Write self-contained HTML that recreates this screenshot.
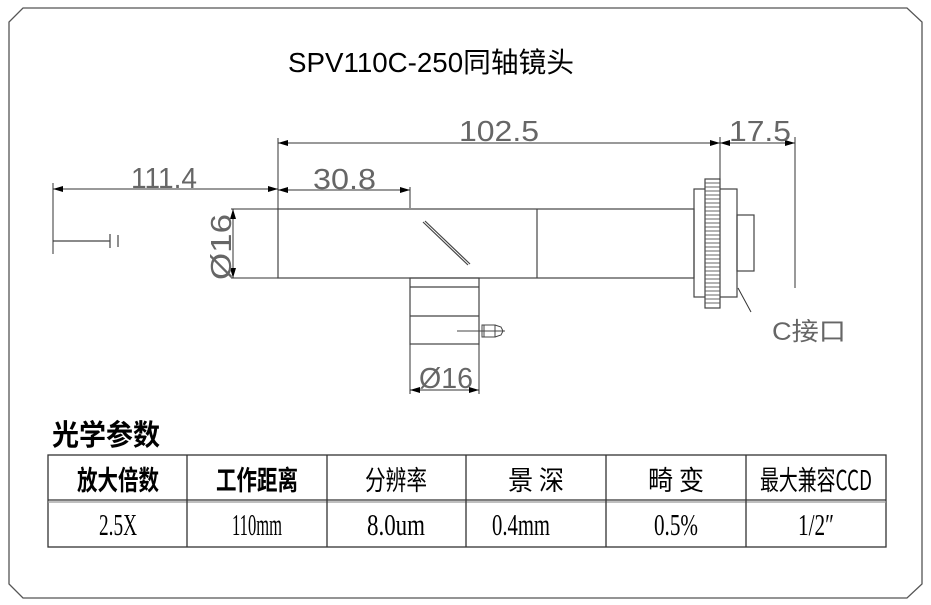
<!DOCTYPE html>
<html><head><meta charset="utf-8"><style>
html,body{margin:0;padding:0;background:#fff;}
svg{display:block;}
.d{font-family:"Liberation Sans","Noto Sans CJK SC",sans-serif;fill:#666;font-weight:normal;}
</style></head><body>
<svg width="931" height="605" viewBox="0 0 931 605" xmlns="http://www.w3.org/2000/svg">
<defs>
<marker id="a" viewBox="0 0 10 6" refX="10" refY="3" markerWidth="10" markerHeight="6" orient="auto-start-reverse" markerUnits="userSpaceOnUse"><path d="M0,0 L10,3 L0,6 z" fill="#000"/></marker>
</defs>
<path d="M23,8 L907,8 L922,22 L922,584 L907,598 L23,598 L9,584 L9,22 Z" fill="none" stroke="#555" stroke-width="1.3"/>
<text x="431" y="72" text-anchor="middle" font-family="Liberation Sans,'Noto Sans CJK SC',sans-serif" font-size="28" textLength="286" lengthAdjust="spacingAndGlyphs" fill="#000">SPV110C-250同轴镜头</text>

<g stroke="#444" stroke-width="1.2" fill="none">
<rect x="278" y="209" width="416" height="69"/>
<line x1="537" y1="209" x2="537" y2="278"/>
<line x1="423" y1="222" x2="468" y2="265"/>
<line x1="425" y1="221" x2="470" y2="264"/>
<rect x="410" y="278" width="69" height="66"/>
<line x1="410" y1="287" x2="479" y2="287"/>
<line x1="410" y1="316" x2="479" y2="316"/>
<line x1="457" y1="331" x2="505" y2="331" stroke-width="1"/>
<rect x="482" y="325" width="13" height="12" stroke-width="1"/>
<path d="M495,325 L501,327 L503,331 L501,335 L495,337" stroke-width="1"/>
<line x1="484" y1="325" x2="484" y2="337" stroke-width="1"/>
<rect x="694" y="189" width="43" height="108"/>
<rect x="737" y="215" width="17" height="56"/>
<rect x="705" y="179" width="15" height="129" fill="#fff"/>
</g>
<g stroke="#555" stroke-width="0.9">
<line x1="705" y1="183" x2="720" y2="183"/><line x1="705" y1="187" x2="720" y2="187"/><line x1="705" y1="191" x2="720" y2="191"/><line x1="705" y1="195" x2="720" y2="195"/><line x1="705" y1="199" x2="720" y2="199"/><line x1="705" y1="203" x2="720" y2="203"/><line x1="705" y1="207" x2="720" y2="207"/><line x1="705" y1="211" x2="720" y2="211"/><line x1="705" y1="215" x2="720" y2="215"/><line x1="705" y1="219" x2="720" y2="219"/><line x1="705" y1="223" x2="720" y2="223"/><line x1="705" y1="227" x2="720" y2="227"/><line x1="705" y1="231" x2="720" y2="231"/><line x1="705" y1="235" x2="720" y2="235"/><line x1="705" y1="239" x2="720" y2="239"/><line x1="705" y1="243" x2="720" y2="243"/><line x1="705" y1="247" x2="720" y2="247"/><line x1="705" y1="251" x2="720" y2="251"/><line x1="705" y1="255" x2="720" y2="255"/><line x1="705" y1="259" x2="720" y2="259"/><line x1="705" y1="263" x2="720" y2="263"/><line x1="705" y1="267" x2="720" y2="267"/><line x1="705" y1="271" x2="720" y2="271"/><line x1="705" y1="275" x2="720" y2="275"/><line x1="705" y1="279" x2="720" y2="279"/><line x1="705" y1="283" x2="720" y2="283"/><line x1="705" y1="287" x2="720" y2="287"/><line x1="705" y1="291" x2="720" y2="291"/><line x1="705" y1="295" x2="720" y2="295"/><line x1="705" y1="299" x2="720" y2="299"/><line x1="705" y1="303" x2="720" y2="303"/>
</g>

<g stroke="#444" stroke-width="1.2">
<line x1="53" y1="241" x2="110" y2="241"/>
<line x1="110" y1="234" x2="110" y2="248"/>
<line x1="118" y1="235" x2="118" y2="247"/>
</g>

<g stroke="#333" stroke-width="1" fill="none">
<line x1="53" y1="183" x2="53" y2="254"/>
<line x1="278" y1="138" x2="278" y2="209"/>
<line x1="53" y1="189" x2="278" y2="189" marker-start="url(#a)" marker-end="url(#a)"/>
<line x1="278" y1="190" x2="410" y2="190" marker-start="url(#a)" marker-end="url(#a)"/>
<line x1="410" y1="187" x2="410" y2="208"/>
<line x1="278" y1="143" x2="720" y2="143" marker-start="url(#a)" marker-end="url(#a)"/>
<line x1="720" y1="137" x2="720" y2="180"/>
<line x1="795" y1="137" x2="795" y2="288"/>
<line x1="720" y1="143" x2="795" y2="143" marker-start="url(#a)" marker-end="url(#a)"/>
<line x1="231" y1="209" x2="278" y2="209"/>
<line x1="231" y1="278" x2="278" y2="278"/>
<line x1="233" y1="209" x2="233" y2="278" marker-start="url(#a)" marker-end="url(#a)"/>
<line x1="410" y1="344" x2="410" y2="394"/>
<line x1="479" y1="344" x2="479" y2="394"/>
<line x1="410" y1="390" x2="479" y2="390" marker-start="url(#a)" marker-end="url(#a)"/>
<line x1="738" y1="288" x2="751" y2="312"/>
</g>
<text class="d" x="131" y="188" font-size="29" textLength="66" lengthAdjust="spacingAndGlyphs">111.4</text>
<text class="d" x="313" y="189" font-size="29" textLength="63" lengthAdjust="spacingAndGlyphs">30.8</text>
<text class="d" x="459" y="141" font-size="29" textLength="80" lengthAdjust="spacingAndGlyphs">102.5</text>
<text class="d" x="729" y="141" font-size="29" textLength="62" lengthAdjust="spacingAndGlyphs">17.5</text>
<text class="d" x="419" y="388" font-size="29" textLength="54" lengthAdjust="spacingAndGlyphs">Ø16</text>
<text class="d" transform="translate(231,280) rotate(-90)" x="0" y="0" font-size="29" textLength="66" lengthAdjust="spacingAndGlyphs">Ø16</text>
<text class="d" x="772" y="340" font-size="25" textLength="74" lengthAdjust="spacingAndGlyphs" fill="#333">C接口</text>

<text x="52" y="445" font-family="'Noto Sans CJK SC',sans-serif" font-weight="bold" font-size="29" textLength="108" lengthAdjust="spacingAndGlyphs" fill="#000">光学参数</text>
<g stroke="#333" stroke-width="1.3" fill="none">
<rect x="48" y="455" width="838" height="92"/>
<line x1="48" y1="500" x2="886" y2="500"/>
<line x1="48" y1="502" x2="886" y2="502" stroke="#999"/>
<line x1="187" y1="455" x2="187" y2="547"/>
<line x1="327" y1="455" x2="327" y2="547"/>
<line x1="466" y1="455" x2="466" y2="547"/>
<line x1="606" y1="455" x2="606" y2="547"/>
<line x1="746" y1="455" x2="746" y2="547"/>
</g>
<g font-family="'Noto Sans CJK SC',sans-serif" font-size="27" fill="#000" text-anchor="middle">
<text x="118" y="490" font-weight="bold" textLength="82" lengthAdjust="spacingAndGlyphs">放大倍数</text>
<text x="257" y="490" font-weight="bold" textLength="82" lengthAdjust="spacingAndGlyphs">工作距离</text>
<text x="396" y="490" textLength="62" lengthAdjust="spacingAndGlyphs">分辨率</text>
<text x="536" y="490" textLength="56" lengthAdjust="spacingAndGlyphs">景 深</text>
<text x="676" y="490" textLength="56" lengthAdjust="spacingAndGlyphs">畸 变</text>
<text x="816" y="490" textLength="112" lengthAdjust="spacingAndGlyphs">最大兼容CCD</text>
</g>
<g font-family="'Liberation Serif',serif" font-size="31" fill="#000" text-anchor="middle">
<text x="118" y="535" textLength="38" lengthAdjust="spacingAndGlyphs">2.5X</text>
<text x="257" y="535" textLength="50" lengthAdjust="spacingAndGlyphs">110mm</text>
<text x="396" y="535" textLength="58" lengthAdjust="spacingAndGlyphs">8.0um</text>
<text x="521" y="535" textLength="58" lengthAdjust="spacingAndGlyphs">0.4mm</text>
<text x="676" y="535" textLength="44" lengthAdjust="spacingAndGlyphs">0.5%</text>
<text x="816" y="535" textLength="36" lengthAdjust="spacingAndGlyphs">1/2″</text>
</g>
</svg>
</body></html>
